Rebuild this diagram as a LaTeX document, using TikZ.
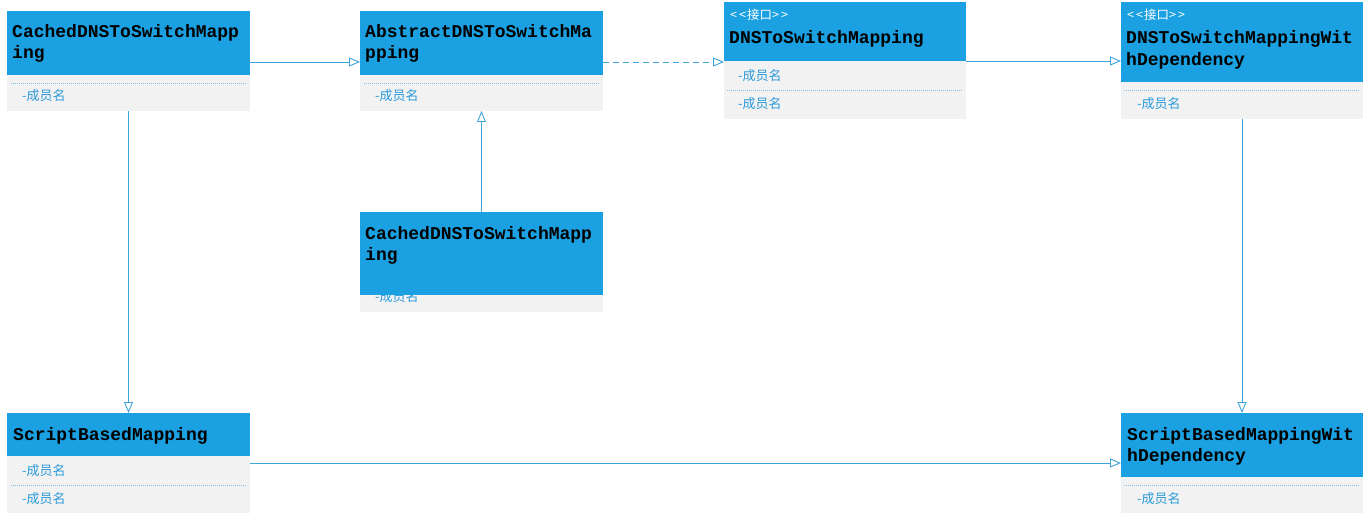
\documentclass[tikz,border=0pt]{standalone}
\usepackage{fontspec}
\setmonofont{Liberation Mono}
\newfontfamily\cjk{Noto Sans CJK SC}
\usetikzlibrary{arrows.meta}
\definecolor{hdrblue}{HTML}{1BA1E2}
\definecolor{bodygray}{HTML}{F2F2F2}
\definecolor{lineblue}{HTML}{3FA4DC}
\definecolor{membblue}{HTML}{2A9ADB}
\definecolor{sepblue}{HTML}{7FBFE8}
\tikzset{
 hdr/.style={fill=hdrblue, draw=none, inner sep=0pt, outer sep=0pt, anchor=north west, rectangle},
 bodybox/.style={fill=bodygray, draw=none, inner sep=0pt, outer sep=0pt, anchor=north west, rectangle},
 ttl/.style={font=\ttfamily\bfseries\fontsize{18}{21}\selectfont, anchor=base west, inner sep=0pt, text=black},
 memb/.style={font=\cjk\fontsize{13}{15}\selectfont, anchor=base west, inner sep=0pt, text=membblue},
 stereo/.style={font=\cjk\fontsize{12.5}{14}\selectfont, anchor=base west, inner sep=0pt, text=white},
 sepline/.style={draw=sepblue, line width=0.8pt, dash pattern=on 1pt off 1pt},
 inh/.style={draw=lineblue, line width=0.9pt, -{Triangle[open, length=11pt, width=9pt, fill=white]}},
}
\begin{document}
\begin{tikzpicture}[x=1pt, y=-1pt]
\useasboundingbox (0,0) rectangle (1369,516);
% bodies
\node[bodybox, minimum width=243pt, minimum height=36pt] (Ab) at (7,75) {};
\node[bodybox, minimum width=243pt, minimum height=36pt] (Bb) at (360,75) {};
\node[bodybox, minimum width=242pt, minimum height=58pt] (Cb) at (724,61) {};
\node[bodybox, minimum width=242pt, minimum height=37pt] (Db) at (1121,82) {};
\node[bodybox, minimum width=243pt, minimum height=17pt] (Eb) at (360,295) {};
\node[bodybox, minimum width=243pt, minimum height=57pt] (Fb) at (7,456) {};
\node[bodybox, minimum width=242pt, minimum height=36pt] (Gb) at (1121,477) {};
% separators
\draw[sepline] (11,83) -- (246,83);
\draw[sepline] (364,83) -- (599,83);
\draw[sepline] (727,90) -- (963,90);
\draw[sepline] (1124,90) -- (1360,90);
\draw[sepline] (11,485) -- (247,485);
\draw[sepline] (1124,485) -- (1360,485);
% members
\node[memb] (Am) at (22,101) {-成员名};
\node[memb] (Bm) at (375,101) {-成员名};
\node[memb] (Cm1) at (738,81) {-成员名};
\node[memb] (Cm2) at (738,109) {-成员名};
\node[memb] (Dm) at (1137,109) {-成员名};
\node[memb] (Em) at (375,301) {-成员名};
\node[memb] (Fm1) at (22,475) {-成员名};
\node[memb] (Fm2) at (22,503) {-成员名};
\node[memb] (Gm) at (1137,503) {-成员名};
% headers
\node[hdr, minimum width=243pt, minimum height=64pt] (Ah) at (7,11) {};
\node[hdr, minimum width=243pt, minimum height=64pt] (Bh) at (360,11) {};
\node[hdr, minimum width=242pt, minimum height=59pt] (Ch) at (724,2) {};
\node[hdr, minimum width=242pt, minimum height=80pt] (Dh) at (1121,2) {};
\node[hdr, minimum width=243pt, minimum height=83pt] (Eh) at (360,212) {};
\node[hdr, minimum width=243pt, minimum height=43pt] (Fh) at (7,413) {};
\node[hdr, minimum width=242pt, minimum height=64pt] (Gh) at (1121,413) {};
% titles
\node[ttl] (At1) at (12,38) {CachedDNSToSwitchMapp};
\node[ttl] (At2) at (12,59) {ing};
\node[ttl] (Bt1) at (365,38) {AbstractDNSToSwitchMa};
\node[ttl] (Bt2) at (365,59) {pping};
\node[stereo] (Cs) at (730,20) {<\kern2pt<\kern1pt接口>\kern2pt>};
\node[ttl] (Ct) at (729,44) {DNSToSwitchMapping};
\node[stereo] (Ds) at (1127,20) {<\kern2pt<\kern1pt接口>\kern2pt>};
\node[ttl] (Dt1) at (1126,44) {DNSToSwitchMappingWit};
\node[ttl] (Dt2) at (1126,66) {hDependency};
\node[ttl] (Et1) at (365,239) {CachedDNSToSwitchMapp};
\node[ttl] (Et2) at (365,260) {ing};
\node[ttl] (Ft) at (13,440) {ScriptBasedMapping};
\node[ttl] (Gt1) at (1127,440) {ScriptBasedMappingWit};
\node[ttl] (Gt2) at (1127,461) {hDependency};
% connectors
\coordinate (ab) at ([yshift=13pt]Ah.south east);
\draw[inh] (ab) -- (ab -| Bh.west);
\coordinate (bc) at ([yshift=13pt]Bh.south east);
\draw[inh, dash pattern=on 6pt off 4pt] (bc) -- (bc -| Ch.west);
\draw[inh] (Ch.south east) -- (Ch.south east -| Dh.west);
\draw[inh] (Ab.south) -- (Fh.north);
\draw[inh] (Eh.north) -- (Bb.south);
\draw[inh] (Db.south) -- (Gh.north);
\coordinate (fg) at ([yshift=-7pt]Fb.north east);
\draw[inh] (fg) -- (fg -| Gh.west);
\end{tikzpicture}
\end{document}
